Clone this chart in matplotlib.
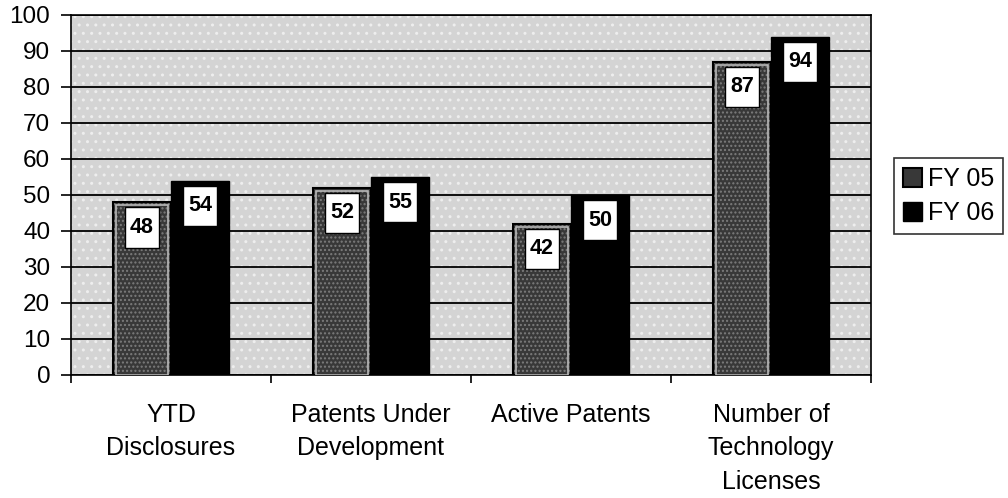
import numpy as np
import matplotlib.pyplot as plt
from matplotlib.patches import Rectangle, Patch

categories = ['YTD\nDisclosures', 'Patents Under\nDevelopment', 'Active Patents',
              'Number of\nTechnology\nLicenses']
fy05 = [48, 52, 42, 87]
fy06 = [54, 55, 50, 94]
series_names = ['FY 05', 'FY 06']
y_ticks = list(range(0, 101, 10))

plt.rcParams['font.family'] = ['Liberation Sans', 'DejaVu Sans']
plt.rcParams['hatch.linewidth'] = 1.0

fig = plt.figure(figsize=(10.08, 4.98), dpi=100)
ax = fig.add_axes([0.0704, 0.247, 0.7936, 0.723])

x = np.arange(len(categories))
width = 0.29

# stippled grey plot area
ax.set_facecolor('#d4d4d4')
ax.add_patch(Rectangle((0, 0), 1, 1, transform=ax.transAxes, facecolor='none',
                       edgecolor='#eeeeee', hatch='..', lw=0, zorder=0.2))

ax.set_axisbelow(True)
ax.yaxis.grid(True, color='black', lw=1.3)

# FY 05: dark stipple with a black rim and a light inner frame
ax.bar(x - width / 2, fy05, width, color='#383838', edgecolor='#7c7c7c',
       hatch='....', lw=0, zorder=2)
ax.bar(x - width / 2, fy05, width, color='none', edgecolor='black', lw=1.5, zorder=3)
ax.bar(x - width / 2, np.array(fy05) - 0.8, width - 0.03, color='none',
       edgecolor='#b8b8b8', lw=1.2, zorder=3)
# FY 06: solid black
ax.bar(x + width / 2, fy06, width, color='black', edgecolor='black', lw=1, zorder=2)

# value labels in white boxes
for xs, vals in [(x - width / 2, fy05), (x + width / 2, fy06)]:
    for xi, v in zip(xs, vals):
        ax.add_patch(Rectangle((xi - 0.083, v - 12.6), 0.166, 11.2, facecolor='white',
                               edgecolor='black', lw=1.0, zorder=4))
        ax.text(xi, v - 7, str(v), ha='center', va='center', fontsize=15.5,
                fontweight='bold', zorder=5)

ax.set_xlim(-0.5, len(categories) - 0.5)
ax.set_ylim(0, 100)
ax.set_yticks(y_ticks)
ax.set_xticks(x)
ax.set_xticklabels(categories, fontsize=18, linespacing=1.5)
ax.set_xticks(np.arange(len(categories) + 1) - 0.5, minor=True)
ax.tick_params(axis='x', which='major', length=0, pad=20)
ax.tick_params(axis='x', which='minor', length=6, width=1.2, color='black')
ax.tick_params(axis='y', length=7, width=1.2, labelsize=17.5, pad=8)

for side in ['left', 'bottom', 'right', 'top']:
    ax.spines[side].set_color('black')
    ax.spines[side].set_linewidth(1.2)

handles = [Patch(facecolor='#383838', edgecolor='black', lw=1.5),
           Patch(facecolor='black', edgecolor='black')]
leg = fig.legend(handles, series_names, loc='center left', bbox_to_anchor=(0.887, 0.606),
                 fontsize=18, frameon=True, fancybox=False, edgecolor='black',
                 handlelength=0.75, handleheight=0.75, handletextpad=0.25,
                 labelspacing=0.4, borderpad=0.35, borderaxespad=0)
leg.get_frame().set_linewidth(1.2)

fig.savefig('out.png', dpi=100)
